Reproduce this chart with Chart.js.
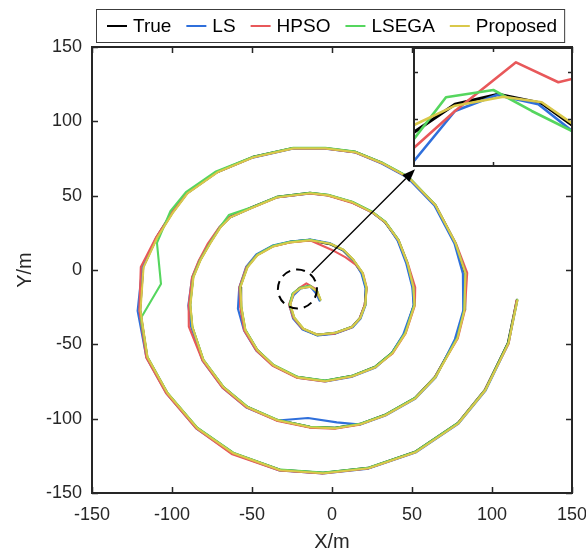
<!DOCTYPE html>
<html><head><meta charset="utf-8">
<script src="https://cdn.jsdelivr.net/npm/chart.js@4.4.0/dist/chart.umd.min.js"></script>
<style>
html,body{margin:0;padding:0;background:#fff;}
#wrap{position:relative;width:586px;height:557px;}
#main{position:absolute;left:0;top:0;}
#inset{position:absolute;left:413px;top:47px;}
</style></head><body>
<div id="wrap"><canvas id="main" width="586" height="557" style="width:586px;height:557px"></canvas><canvas id="inset" width="160" height="120" style="width:160px;height:120px"></canvas></div>
<script>
const seriesNames = ['True','LS','HPSO','LSEGA','Proposed'];
const seriesColors = ['#000000','#2F6FDB','#E8585A','#55D65E','#D9C84A'];
const xTickValues = [-150,-100,-50,0,50,100,150];
const yTickValues = [-150,-100,-50,0,50,100,150];

const trueX = [-7.5,-9.4,-13.8,-20.0,-24.4,-26.3,-23.8,-18.1,-9.4,1.9,
12.5,17.5,20.6,21.3,18.8,13.1,6.9,-1.3,-13.8,-26.3,
-36.9,-46.9,-53.1,-57.5,-56.9,-54.4,-46.9,-36.9,-21.9,-4.4,
12.5,26.9,37.5,45.6,51.3,50.6,46.9,41.3,33.1,25.0,
12.5,-2.5,-13.8,-34.4,-49.4,-63.8,-70.0,-76.3,-82.5,-86.9,
-88.8,-87.5,-80.6,-68.1,-53.1,-34.4,-13.8,1.9,17.5,33.1,
51.9,64.4,78.1,82.5,83.1,76.9,64.4,47.5,31.3,14.4,
-4.4,-24.4,-49.4,-71.9,-90.6,-100.0,-109.4,-118.1,-120.0,-115.6,
-103.1,-84.4,-61.9,-32.5,-5.6,22.5,51.9,78.8,95.6,110.0,115.6];
const trueY = [-20.2,-14.8,-10.8,-12.1,-16.1,-23.5,-32.3,-39.7,-43.7,-42.4,
-38.3,-32.3,-23.5,-12.1,-2.0,6.7,13.4,17.5,20.2,18.8,
16.1,10.1,2.0,-11.4,-24.9,-40.3,-53.8,-63.9,-72.0,-74.6,
-71.3,-65.2,-55.8,-42.4,-23.5,-11.4,4.7,20.2,32.3,39.0,
45.7,50.4,51.8,49.1,42.4,35.6,28.9,18.2,6.7,-4.7,
-23.5,-38.3,-60.5,-78.7,-92.1,-100.9,-105.6,-106.3,-103.6,-97.5,
-86.1,-72.0,-45.7,-26.9,-2.0,18.2,43.7,62.5,72.0,79.4,
82.0,82.0,76.0,65.9,51.8,38.3,22.2,2.0,-26.9,-58.5,
-82.7,-106.3,-123.1,-134.5,-136.5,-133.2,-122.4,-102.9,-80.7,-49.1,-20.2];

const lsX = [-7.8,-9.8,-13.5,-19.6,-24.0,-26.6,-24.3,-18.4,-9.0,2.2,
12.9,17.9,20.9,21.0,18.4,13.5,7.3,-1.0,-13.5,-26.0,
-37.2,-47.3,-53.6,-58.0,-58.8,-55.0,-47.4,-37.0,-21.6,-4.0,
12.8,27.3,37.2,44.5,51.0,50.2,46.4,41.0,33.5,25.3,
12.8,-2.2,-13.5,-34.7,-49.8,-64.2,-70.4,-76.8,-83.0,-87.4,
-89.8,-88.0,-80.9,-68.4,-53.5,-34.0,-15.0,3.0,17.8,33.4,
52.2,64.8,76.8,82.0,81.8,76.5,64.0,47.2,31.0,14.6,
-4.2,-24.6,-49.6,-72.2,-90.9,-100.3,-109.8,-118.6,-121.5,-116.0,
-103.4,-84.7,-62.2,-32.8,-5.4,22.8,52.2,79.1,96.0,110.3,115.8];
const lsY = [-20.6,-16.0,-11.2,-12.5,-17.0,-23.9,-32.7,-40.1,-44.1,-42.8,
-38.6,-32.6,-23.8,-12.4,-2.3,6.4,13.1,17.9,20.5,19.1,
16.4,10.4,2.3,-12.0,-26.0,-40.7,-54.2,-64.3,-72.4,-75.0,
-71.7,-65.6,-56.2,-43.5,-23.9,-11.8,4.4,19.8,32.0,38.6,
45.4,50.1,51.5,48.8,42.0,35.2,28.6,17.8,6.3,-5.0,
-24.0,-38.5,-60.9,-79.1,-92.5,-101.2,-99.5,-102.5,-104.0,-97.9,
-86.5,-72.4,-46.5,-27.3,-2.5,17.8,43.3,62.1,71.6,79.0,
81.6,81.6,75.6,65.5,51.4,37.9,21.8,1.6,-27.5,-58.9,
-83.1,-106.7,-123.5,-134.9,-136.9,-133.6,-122.8,-103.3,-81.1,-49.5,-20.6];

const hpsoX = [-8.0,-10.5,-16.0,-21.0,-24.4,-26.9,-24.2,-18.6,-9.6,1.6,
12.2,17.2,20.3,21.8,19.4,15.0,8.5,0.0,-13.4,-26.6,
-37.2,-47.2,-53.6,-57.9,-57.3,-54.9,-47.3,-37.3,-22.2,-4.7,
12.2,26.6,37.9,46.0,51.8,52.0,47.4,41.7,33.5,25.3,
12.3,-2.8,-14.1,-34.7,-49.8,-64.2,-70.5,-77.5,-83.2,-87.5,
-89.6,-89.5,-81.0,-68.6,-53.5,-34.7,-14.1,1.6,17.2,32.8,
51.6,64.0,78.6,83.0,84.5,77.4,64.9,47.9,31.6,14.7,
-4.6,-24.7,-49.7,-72.3,-91.0,-100.5,-110.0,-119.5,-120.4,-116.1,
-103.6,-84.8,-62.3,-32.8,-5.8,22.3,51.6,78.5,95.3,110.4,115.3];
const hpsoY = [-18.5,-12.5,-9.0,-12.6,-16.5,-23.2,-32.0,-39.4,-43.4,-42.8,
-38.7,-32.7,-23.8,-12.4,-2.4,3.5,8.5,13.5,19.9,18.5,
15.8,9.8,1.7,-11.7,-25.2,-40.6,-54.2,-64.3,-72.4,-74.9,
-71.6,-65.5,-56.1,-42.7,-23.8,-11.7,4.4,19.9,32.0,38.7,
45.3,50.1,51.5,48.8,42.1,35.3,28.6,18.0,6.4,-5.0,
-23.8,-38.0,-60.8,-79.0,-92.4,-101.3,-106.0,-106.7,-104.0,-97.9,
-86.4,-72.3,-46.0,-27.2,-2.0,18.0,43.4,62.2,71.7,79.1,
81.7,81.7,75.7,65.6,51.5,38.0,21.9,2.0,-27.2,-58.8,
-83.0,-106.6,-124.0,-134.8,-136.8,-133.5,-122.7,-103.2,-81.0,-49.4,-20.5];

const lsegaX = [-7.3,-9.2,-13.6,-19.8,-24.6,-26.5,-23.6,-17.9,-9.2,2.1,
12.7,17.7,20.8,21.5,19.0,13.3,7.1,-1.1,-13.6,-26.1,
-36.7,-46.7,-52.9,-57.3,-56.7,-54.2,-46.7,-36.7,-21.7,-4.2,
12.7,27.1,37.7,45.8,51.5,50.8,47.1,41.5,33.3,25.2,
12.7,-2.3,-13.6,-34.2,-49.2,-64.5,-69.8,-76.1,-82.3,-86.7,
-88.6,-87.3,-80.4,-67.9,-52.9,-34.2,-13.6,2.1,17.7,33.3,
52.1,64.6,78.3,82.7,83.3,77.1,64.6,47.7,31.5,14.6,
-4.2,-24.2,-49.2,-72.5,-91.3,-101.0,-109.4,-106.9,-119.4,-115.4,
-102.9,-84.2,-61.7,-32.3,-5.4,22.7,52.1,79.0,95.8,110.2,115.8];
const lsegaY = [-20.0,-14.6,-10.6,-11.9,-15.9,-23.3,-32.1,-39.5,-43.5,-42.2,
-38.1,-32.1,-23.3,-11.9,-1.8,6.9,13.6,17.7,20.4,19.0,
16.3,10.3,2.2,-11.2,-24.7,-40.1,-53.6,-63.7,-71.8,-74.4,
-71.1,-65.0,-55.6,-42.2,-23.3,-11.2,4.9,20.4,32.5,39.2,
45.9,50.6,52.0,49.3,42.6,37.0,29.1,18.4,6.9,-4.5,
-23.3,-38.1,-60.3,-78.5,-91.9,-100.7,-105.4,-106.1,-103.4,-97.3,
-85.9,-71.8,-45.5,-26.7,-1.8,18.4,43.9,62.7,72.2,79.6,
82.2,82.2,76.2,66.3,52.4,39.5,18.2,-9.4,-32.3,-58.3,
-82.5,-106.1,-122.9,-134.3,-136.3,-133.0,-122.2,-102.7,-80.5,-48.9,-20.0];

const proposedX = [-7.2,-9.1,-13.5,-19.7,-24.1,-26.0,-23.5,-17.8,-9.1,2.2,
12.8,17.8,20.9,21.6,19.1,13.4,7.2,-1.0,-13.5,-26.0,
-36.6,-46.6,-52.8,-57.2,-56.6,-54.1,-46.6,-36.6,-21.6,-4.1,
12.8,27.2,37.8,45.9,51.6,50.9,47.2,41.6,33.4,25.3,
12.8,-2.2,-13.5,-34.1,-49.1,-63.5,-69.7,-76.0,-82.2,-86.6,
-88.5,-87.2,-80.3,-67.8,-52.8,-34.1,-13.5,2.2,17.8,33.4,
52.2,64.7,78.4,82.8,83.4,77.2,64.7,47.8,31.6,14.7,
-4.1,-24.1,-49.1,-71.6,-90.3,-99.7,-109.1,-117.8,-119.7,-115.3,
-102.8,-84.1,-61.6,-32.2,-5.3,22.8,52.2,79.1,95.9,110.3,115.9];
const proposedY = [-20.0,-14.6,-11.2,-12.4,-15.8,-23.3,-32.1,-39.5,-43.5,-42.2,
-38.1,-32.1,-23.3,-11.9,-1.8,6.9,13.6,17.7,20.0,18.6,
15.9,9.9,1.8,-11.6,-25.1,-40.5,-54.0,-64.1,-72.2,-74.8,
-71.5,-65.4,-56.0,-42.6,-23.7,-11.6,4.5,20.0,32.1,38.8,
45.5,50.2,51.6,48.9,42.2,35.4,28.7,18.0,6.5,-4.9,
-23.7,-38.5,-60.7,-78.9,-92.3,-101.1,-105.8,-106.5,-103.8,-97.7,
-86.3,-72.2,-45.9,-27.1,-2.2,18.0,43.5,62.3,71.8,79.2,
81.8,81.8,75.8,65.7,51.6,38.1,22.0,1.8,-27.1,-58.7,
-82.9,-106.5,-123.3,-134.7,-136.7,-133.4,-122.6,-103.1,-80.9,-49.3,-20.4];

// inset (zoomed view of the innermost arch)
const insetTrueX = [-30,-24.81,-19.33,-13.84,-10];
const insetTrueY = [-16.43,-13.46,-12.40,-13.36,-15.66];
const insetLsX = [-30,-24.81,-19.53,-14.26,-10];
const insetLsY = [-19.47,-14.17,-12.48,-13.46,-16.29];
const insetHpsoX = [-30,-24.81,-17.09,-11.73,-10];
const insetHpsoY = [-18.06,-14.17,-9.02,-11.13,-10.78];
const insetLsegaX = [-30,-25.95,-19.96,-15.10,-10];
const insetLsegaY = [-17.14,-12.72,-11.95,-14.17,-16.29];
const insetProposedX = [-30,-24.81,-18.70,-13.84,-10];
const insetProposedY = [-15.66,-13.61,-12.66,-13.25,-15.48];
const insetXTicks = [-20];
const insetYTicks = [-15,-10];

// annotation anchors (data units)
const circleCenter = [-21.6,-12.8];
const circleRadiusX = 12.2;
const arrowFrom = [-12.7,-1.8];
const arrowTo = [51.9,67.7];

const FONT = '"Liberation Sans", Arial, sans-serif';
const AXC = '#262626';
Chart.defaults.font.family = FONT;

function pts(xs, ys){ return xs.map((x,i)=>({x:x, y:ys[i]})); }
const mainSeries = [[trueX,trueY],[lsX,lsY],[hpsoX,hpsoY],[lsegaX,lsegaY],[proposedX,proposedY]];
const insetSeries = [[insetTrueX,insetTrueY],[insetLsX,insetLsY],[insetHpsoX,insetHpsoY],[insetLsegaX,insetLsegaY],[insetProposedX,insetProposedY]];
const drawOrder = [5,4,3,2,1];

function makeDatasets(series, widths){
  return series.map((s,i)=>({
    label: seriesNames[i], data: pts(s[0], s[1]), showLine:true,
    borderColor: seriesColors[i], backgroundColor: seriesColors[i],
    borderWidth: widths[i], pointRadius:0, pointHoverRadius:0, tension:0, fill:false,
    order: drawOrder[i], borderJoinStyle:'round', borderCapStyle:'round'
  }));
}

function drawBoxTicks(chart, xVals, yVals, len, lw){
  const {ctx, chartArea:a, scales:{x, y}} = chart;
  ctx.save();
  ctx.strokeStyle = AXC; ctx.lineWidth = lw; ctx.lineCap='butt';
  ctx.beginPath();
  xVals.forEach(v=>{ const p = Math.round(x.getPixelForValue(v))+0.5;
    ctx.moveTo(p, a.bottom); ctx.lineTo(p, a.bottom-len);
    ctx.moveTo(p, a.top); ctx.lineTo(p, a.top+len); });
  yVals.forEach(v=>{ const p = Math.round(y.getPixelForValue(v))+0.5;
    ctx.moveTo(a.left, p); ctx.lineTo(a.left+len, p);
    ctx.moveTo(a.right, p); ctx.lineTo(a.right-len, p); });
  ctx.stroke();
  ctx.lineWidth = 2;
  ctx.strokeRect(a.left, a.top, a.right-a.left, a.bottom-a.top);
  ctx.restore();
}

const mainPlugin = {
  id:'mainDecor',
  afterDatasetsDraw(chart){
    const {ctx, scales:{x, y}} = chart;
    ctx.save();
    const cx = x.getPixelForValue(circleCenter[0]), cy = y.getPixelForValue(circleCenter[1]);
    const r = x.getPixelForValue(circleCenter[0]+circleRadiusX) - cx;
    ctx.strokeStyle = '#000'; ctx.lineWidth = 2; ctx.setLineDash([9,6]);
    ctx.beginPath(); ctx.arc(cx, cy, r, 0, Math.PI*2); ctx.stroke();
    ctx.setLineDash([]);
    const x0 = x.getPixelForValue(arrowFrom[0]), y0 = y.getPixelForValue(arrowFrom[1]);
    const x1 = x.getPixelForValue(arrowTo[0]), y1 = y.getPixelForValue(arrowTo[1]);
    const ang = Math.atan2(y1-y0, x1-x0);
    const hl = 13, hw = 5;
    const bx = x1 - hl*Math.cos(ang), by = y1 - hl*Math.sin(ang);
    ctx.lineWidth = 1.3; ctx.strokeStyle = '#000';
    ctx.beginPath(); ctx.moveTo(x0,y0); ctx.lineTo(bx,by); ctx.stroke();
    ctx.fillStyle = '#000';
    ctx.beginPath(); ctx.moveTo(x1,y1);
    ctx.lineTo(bx + hw*Math.sin(ang), by - hw*Math.cos(ang));
    ctx.lineTo(bx - hw*Math.sin(ang), by + hw*Math.cos(ang));
    ctx.closePath(); ctx.fill();
    ctx.restore();
  },
  afterDraw(chart){
    drawBoxTicks(chart, xTickValues, yTickValues, 6, 1.5);
    const ctx = chart.ctx;
    ctx.save();
    ctx.font = '19px ' + FONT;
    const left = 96, top = 9, h = 33;
    let xx = left + 11;
    const items = [];
    chart.data.datasets.forEach((d)=>{
      const tw = ctx.measureText(d.label).width;
      items.push({x:xx, label:d.label, color:d.borderColor});
      xx += 20 + 6 + tw + 15;
    });
    const right = xx - 15 + 7;
    ctx.fillStyle = '#fff'; ctx.fillRect(left, top, right-left, h);
    ctx.strokeStyle = '#3c3c3c'; ctx.lineWidth = 1;
    ctx.strokeRect(left+0.5, top+0.5, right-left, h);
    const cyL = top + h/2 + 0.5;
    items.forEach(it=>{
      ctx.strokeStyle = it.color; ctx.lineWidth = 2;
      ctx.beginPath(); ctx.moveTo(it.x, cyL); ctx.lineTo(it.x+20, cyL); ctx.stroke();
      ctx.fillStyle = '#000'; ctx.textBaseline = 'middle'; ctx.textAlign='left';
      ctx.fillText(it.label, it.x+26, cyL+1);
    });
    ctx.restore();
  }
};

new Chart(document.getElementById('main'), {
  type:'scatter',
  data:{ datasets: makeDatasets(mainSeries, [2.4,2.1,2.1,2.1,2.1]) },
  options:{
    responsive:false, animation:false, events:[],
    layout:{ padding:{ top:47, right:14, left:0, bottom:0 } },
    plugins:{ legend:{display:false}, tooltip:{enabled:false} },
    scales:{
      x:{ type:'linear', position:'bottom', min:-150, max:150,
        grid:{display:false, drawTicks:false}, border:{display:false},
        ticks:{ stepSize:50, color:AXC, font:{size:18}, padding:11, maxRotation:0, autoSkip:false },
        title:{ display:true, text:'X/m', color:AXC, font:{size:20}, padding:{top:0,bottom:3} },
        afterFit(s){ s.height = 64; s.paddingLeft = 0; s.paddingRight = 0; }
      },
      y:{ type:'linear', position:'left', min:-150, max:150,
        grid:{display:false, drawTicks:false}, border:{display:false},
        ticks:{ stepSize:50, color:AXC, font:{size:18}, padding:10, autoSkip:false },
        title:{ display:true, text:'Y/m', color:AXC, font:{size:20}, padding:{top:13,bottom:0} },
        afterFit(s){ s.width = 92; s.paddingTop = 0; s.paddingBottom = 0; }
      }
    }
  },
  plugins:[mainPlugin]
});

const insetPlugin = {
  id:'insetDecor',
  beforeDraw(chart){
    const ctx = chart.ctx; ctx.save(); ctx.fillStyle='#fff';
    ctx.fillRect(0,0,chart.width,chart.height); ctx.restore();
  },
  afterDraw(chart){ drawBoxTicks(chart, insetXTicks, insetYTicks, 4, 1.5); }
};

new Chart(document.getElementById('inset'), {
  type:'scatter',
  data:{ datasets: makeDatasets(insetSeries, [3.2,2.6,2.6,2.6,2.6]) },
  options:{
    responsive:false, animation:false, events:[],
    layout:{ padding:1 },
    plugins:{ legend:{display:false}, tooltip:{enabled:false} },
    scales:{
      x:{ type:'linear', min:-30, max:-10, display:false },
      y:{ type:'linear', min:-20, max:-7.5, display:false }
    }
  },
  plugins:[insetPlugin]
});
</script>
</body></html>
